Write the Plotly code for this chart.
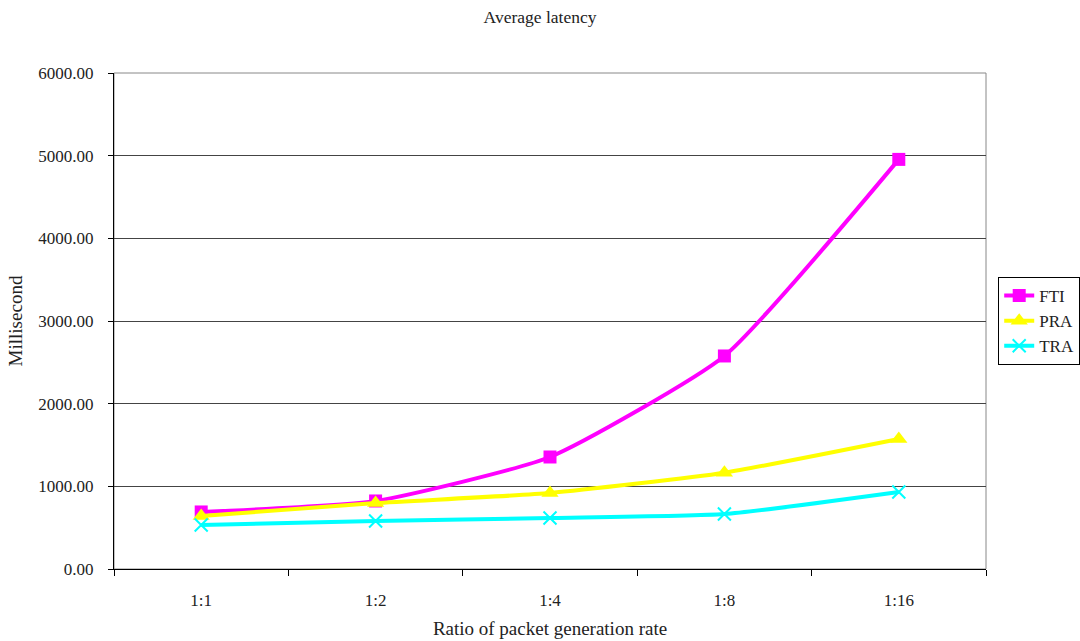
import plotly.graph_objects as go

# Packet generation ratios (x categories)
ratios = ["1:1", "1:2", "1:4", "1:8", "1:16"]

# Average latency in milliseconds
fti = [690, 823, 1355, 2577, 4955]
pra = [641, 798, 919, 1165, 1573]
tra = [532, 580, 617, 665, 931]

y_ticks = [0, 1000, 2000, 3000, 4000, 5000, 6000]

font_family = "Liberation Serif, Times New Roman, serif"

fig = go.Figure()

series = [
    ("FTI", fti, "#ff00ff", "square", 13),
    ("PRA", pra, "#ffff00", "triangle-up", 15),
    ("TRA", tra, "#00ffff", "x-thin", 13),
]

for name, vals, color, sym, size in series:
    marker = dict(symbol=sym, size=size, color=color, line=dict(color=color, width=2 if sym == "x-thin" else 0))
    fig.add_trace(go.Scatter(
        x=ratios, y=vals, name=name,
        mode="lines+markers",
        line=dict(color=color, width=4, shape="spline", smoothing=0.5),
        marker=marker,
    ))

# Light frame around plot area (top/right edges)
fig.add_shape(type="rect", xref="paper", yref="paper", x0=0, y0=0, x1=1, y1=1,
              line=dict(color="#888888", width=1), layer="below")

fig.update_layout(
    width=1080, height=641,
    margin=dict(l=114, r=94, t=73, b=72, autoexpand=False),
    paper_bgcolor="white", plot_bgcolor="white",
    font=dict(family=font_family, size=16, color="#222222"),
    title=dict(text="Average latency", x=0.5, xref="container", xanchor="center",
               y=1 - 17 / 641, yanchor="middle", font=dict(family=font_family, size=17.5)),
    showlegend=True,
    legend=dict(x=1.014, xanchor="left", y=0.5, yanchor="middle",
                bordercolor="#000000", borderwidth=1, bgcolor="white",
                font=dict(family=font_family, size=17), tracegroupgap=0, itemwidth=30),
)

fig.update_xaxes(
    type="category", range=[-0.5, 4.5],
    tickson="boundaries", ticks="outside", ticklen=6, tickcolor="#000000",
    ticklabelstandoff=16,
    showline=True, linecolor="#000000", linewidth=1,
    showgrid=False, zeroline=False,
    title=dict(text="Ratio of packet generation rate", standoff=12,
               font=dict(family=font_family, size=19)),
    tickfont=dict(family=font_family, size=17),
)

fig.update_yaxes(
    range=[0, 6000], tickvals=y_ticks, tickformat=".2f",
    ticks="outside", ticklen=5, tickcolor="#000000",
    ticklabelstandoff=11,
    showline=True, linecolor="#000000", linewidth=1,
    showgrid=True, gridcolor="#444444", gridwidth=1, zeroline=False,
    title=dict(text="Millisecond", standoff=10,
               font=dict(family=font_family, size=19)),
    tickfont=dict(family=font_family, size=17),
)

fig.write_html("out.html")
